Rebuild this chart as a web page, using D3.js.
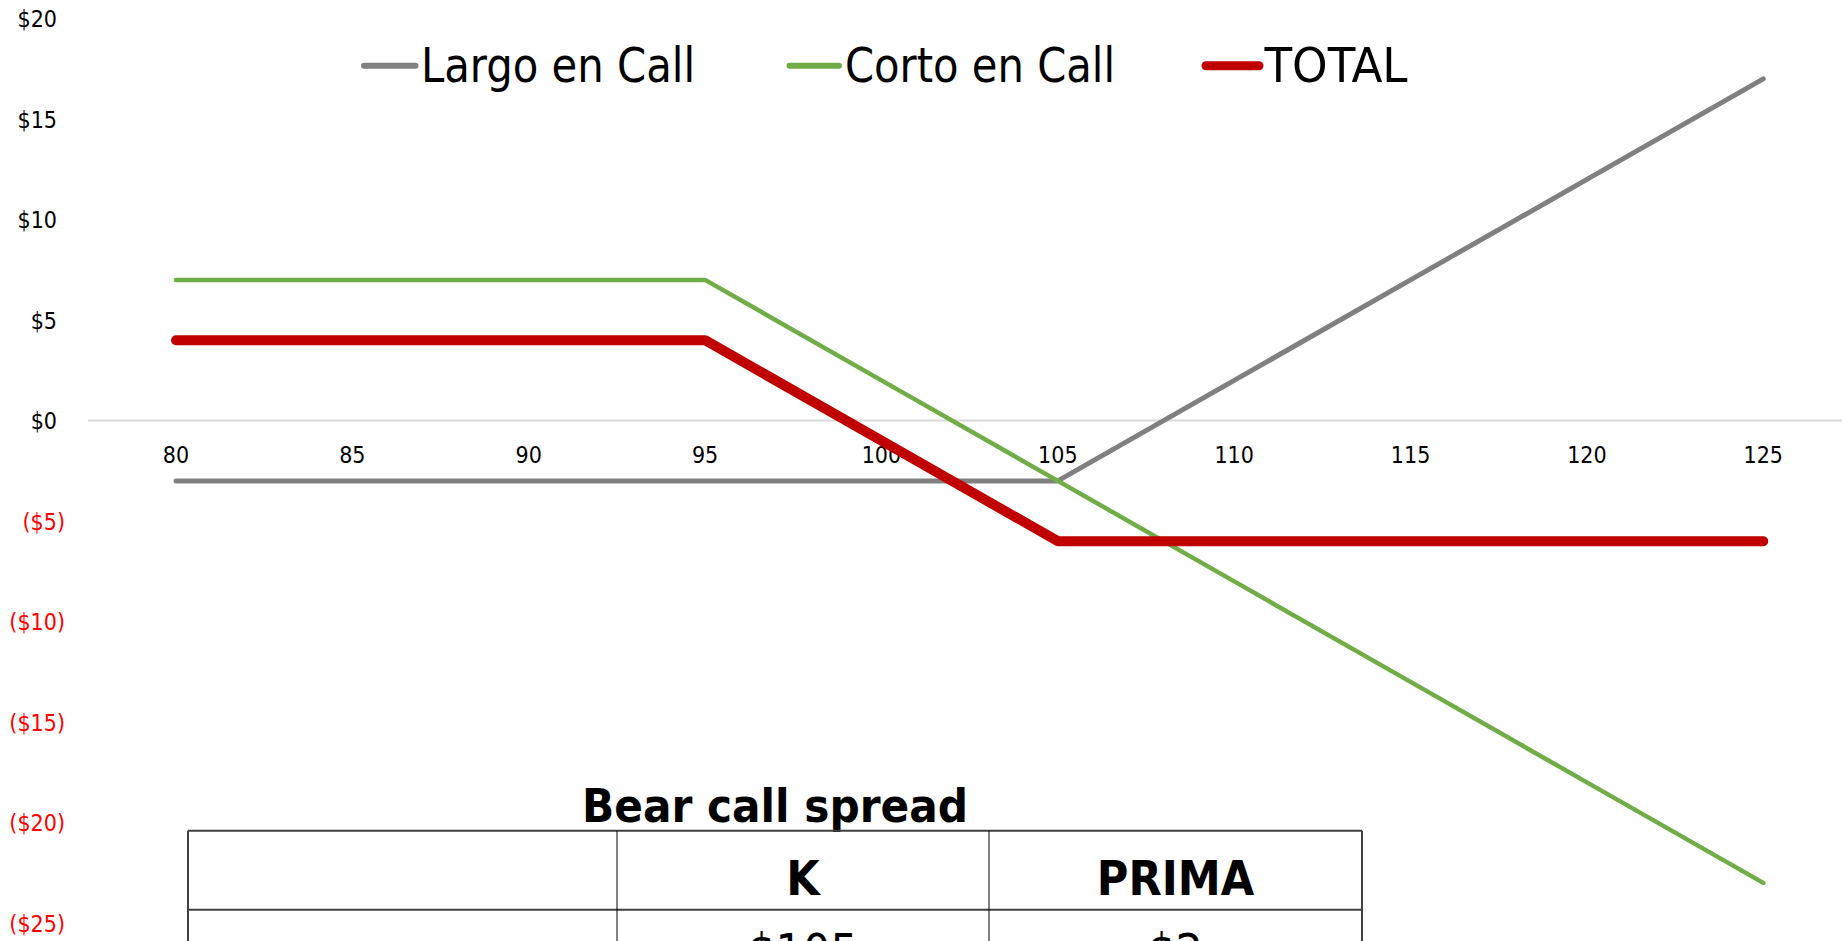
<!DOCTYPE html>
<html>
<head>
<meta charset="utf-8">
<script src="https://cdn.jsdelivr.net/npm/d3@7"></script>
<style>
  html, body { margin: 0; padding: 0; background: #fff; }
  svg { display: block; }
</style>
</head>
<body>
<svg id="chart" width="1842" height="941"></svg>
<script>
// ---- data ----
const strikes = [80, 85, 90, 95, 100, 105, 110, 115, 120, 125];
const largoCall = [-3, -3, -3, -3, -3, -3, 2, 7, 12, 17];
const cortoCall = [7, 7, 7, 7, 2, -3, -8, -13, -18, -23];
const total = [4, 4, 4, 4, -1, -6, -6, -6, -6, -6];
const yTicks = [20, 15, 10, 5, 0, -5, -10, -15, -20, -25];
const seriesNames = ["Largo en Call", "Corto en Call", "TOTAL"];
const tableTitle = "Bear call spread";
const tableHeader = ["", "K", "PRIMA"];
const tableRow1 = ["", "$105", "$2"];

// ---- layout ----
const FONT = "'DejaVu Sans Condensed', 'DejaVu Sans', sans-serif";
const svg = d3.select("#chart");

const x = d3.scalePoint().domain(strikes).range([176, 1763.3]);
const y = d3.scaleLinear().domain([-25, 20]).range([923.1, 18.6]);

// zero gridline
svg.append("line")
  .attr("x1", 88).attr("x2", 1842)
  .attr("y1", y(0)).attr("y2", y(0))
  .attr("stroke", "#d9d9d9").attr("stroke-width", 2);

// y tick labels
svg.append("g").selectAll("text").data(yTicks).join("text")
  .attr("x", d => d < 0 ? 65 : 57)
  .attr("y", d => y(d) + 8.4)
  .attr("text-anchor", "end")
  .attr("font-family", FONT).attr("font-size", 23)
  .attr("fill", d => d < 0 ? "#ff0000" : "#000")
  .text(d => d < 0 ? `($${-d})` : `$${d}`);

// x tick labels
svg.append("g").selectAll("text").data(strikes).join("text")
  .attr("x", d => x(d))
  .attr("y", 462.7)
  .attr("text-anchor", "middle")
  .attr("font-family", FONT).attr("font-size", 23)
  .attr("fill", "#000")
  .text(d => d);

// series
const series = [
  { name: seriesNames[0], values: largoCall, color: "#808080", width: 5 },
  { name: seriesNames[1], values: cortoCall, color: "#70ad47", width: 4.5 },
  { name: seriesNames[2], values: total, color: "#c00000", width: 10 }
];
const line = d3.line().x((d, i) => x(strikes[i])).y(d => y(d));
svg.append("g").selectAll("path").data(series).join("path")
  .attr("d", s => line(s.values))
  .attr("fill", "none")
  .attr("stroke", s => s.color)
  .attr("stroke-width", s => s.width)
  .attr("stroke-linejoin", "round")
  .attr("stroke-linecap", "round");

// legend
const legendPos = [
  { x1: 364, x2: 415.5, tx: 421, len: 274 },
  { x1: 789.5, x2: 839, tx: 845, len: 270 },
  { x1: 1206, x2: 1259, tx: 1264.5, len: 143 }
];
const lg = svg.append("g");
series.forEach((s, i) => {
  const p = legendPos[i];
  lg.append("line")
    .attr("x1", p.x1).attr("x2", p.x2)
    .attr("y1", 65.7).attr("y2", 65.7)
    .attr("stroke", s.color)
    .attr("stroke-width", i === 2 ? 9 : 6)
    .attr("stroke-linecap", "round");
  lg.append("text")
    .attr("x", p.tx).attr("y", 81.7)
    .attr("font-family", FONT).attr("font-size", 48)
    .attr("textLength", p.len).attr("lengthAdjust", "spacingAndGlyphs")
    .attr("fill", "#000")
    .text(s.name);
});

// table
const colX = [188, 617, 989, 1362];
const rowY = [830.7, 909.7, 988.7];
const tg = svg.append("g");
tg.append("text")
  .attr("x", (colX[0] + colX[3]) / 2).attr("y", 822)
  .attr("text-anchor", "middle")
  .attr("font-family", FONT).attr("font-size", 47).attr("font-weight", "bold")
  .attr("fill", "#000")
  .text(tableTitle);

// horizontal lines
tg.selectAll("line.h").data(rowY.slice(0, 2)).join("line")
  .attr("class", "h")
  .attr("x1", colX[0]).attr("x2", colX[3])
  .attr("y1", d => d).attr("y2", d => d)
  .attr("stroke", "#404040").attr("stroke-width", 2);
// vertical lines
tg.selectAll("line.v").data(colX).join("line")
  .attr("class", "v")
  .attr("x1", d => d).attr("x2", d => d)
  .attr("y1", rowY[0]).attr("y2", 941)
  .attr("stroke", (d, i) => (i === 0 || i === 3) ? "#404040" : "#000")
  .attr("stroke-width", (d, i) => (i === 0 || i === 3) ? 2 : 1);

const colCenter = i => (colX[i] + colX[i + 1]) / 2;
tg.selectAll("text.hdr").data(tableHeader).join("text")
  .attr("class", "hdr")
  .attr("x", (d, i) => colCenter(i)).attr("y", 895)
  .attr("text-anchor", "middle")
  .attr("font-family", FONT).attr("font-size", 48).attr("font-weight", "bold")
  .attr("fill", "#000")
  .text(d => d);
tg.selectAll("text.r1").data(tableRow1).join("text")
  .attr("class", "r1")
  .attr("x", (d, i) => colCenter(i)).attr("y", 968)
  .attr("text-anchor", "middle")
  .attr("font-family", FONT).attr("font-size", 48)
  .attr("fill", "#000")
  .text(d => d);
</script>
</body>
</html>
